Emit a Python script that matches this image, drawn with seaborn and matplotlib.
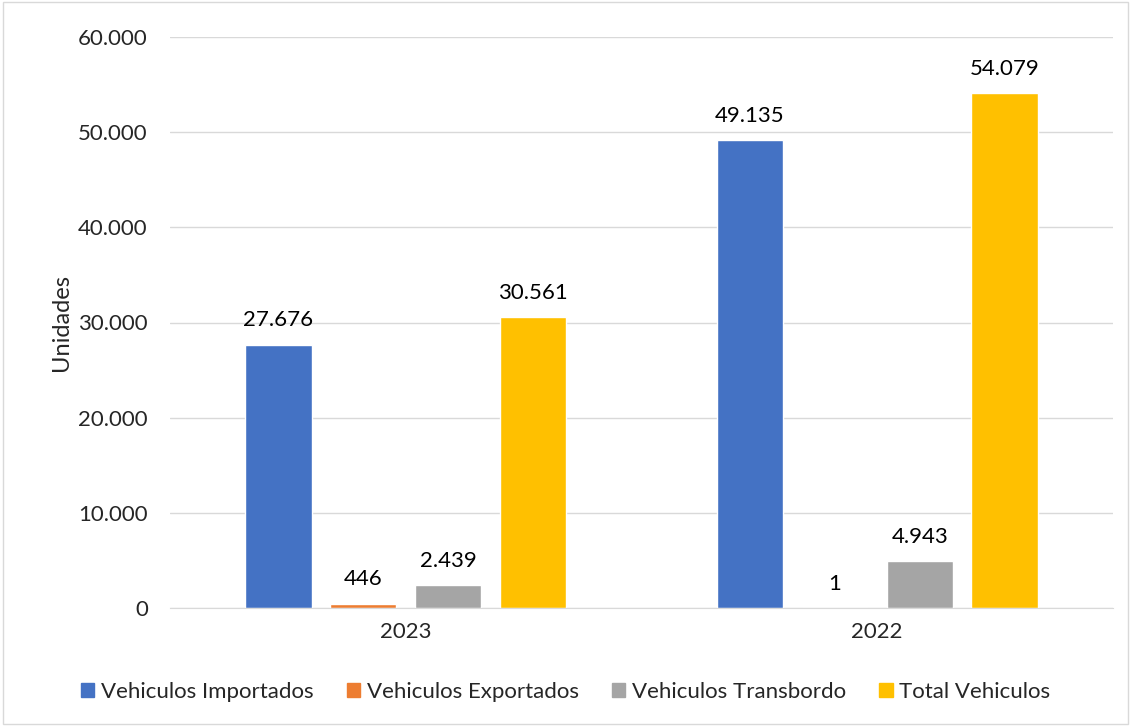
import numpy as np
import pandas as pd
import seaborn as sns
import matplotlib.pyplot as plt
from matplotlib.patches import Rectangle

# data
years = ["2023", "2022"]
series = ["Vehiculos Importados", "Vehiculos Exportados", "Vehiculos Transbordo", "Total Vehiculos"]
importados = [27676, 49135]
exportados = [446, 1]
transbordo = [2439, 4943]
total = [30561, 54079]
colors = ["#4472C4", "#ED7D31", "#A5A5A5", "#FFC000"]

rows = []
for i, y in enumerate(years):
    for s, vals in zip(series, [importados, exportados, transbordo, total]):
        rows.append({"year": y, "serie": s, "value": vals[i]})
df = pd.DataFrame(rows)

sns.set_style("white")
plt.rcParams['font.family'] = ['Lato', 'DejaVu Sans']

fig = plt.figure(figsize=(11.31, 7.26), dpi=100)
ax = fig.add_axes([170/1131, 1-608/726, (1113-170)/1131, (608-37)/726])

sns.barplot(data=df, x="year", y="value", hue="serie", palette=colors,
            order=years, hue_order=series, width=0.72, gap=0.22,
            ax=ax, legend=False, saturation=1)

def fmt(v):
    return f"{v:,.0f}".replace(",", ".")

for cont in ax.containers:
    for bar in cont:
        h = bar.get_height()
        ax.text(bar.get_x() + bar.get_width()/2, h + 1500, fmt(h),
                ha="center", va="bottom", fontsize=16, color="#000000")

ax.set_ylim(0, 60000)
ax.set_yticks(range(0, 60001, 10000))
ax.set_yticklabels([fmt(v) for v in range(0, 60001, 10000)], fontsize=16)
ax.tick_params(axis="x", labelsize=16, length=0, pad=10)
ax.tick_params(axis="y", length=0, pad=16)
ax.yaxis.grid(True, color="#D9D9D9", linewidth=1)
ax.set_axisbelow(True)
for sp in ["top", "right", "left"]:
    ax.spines[sp].set_visible(False)
ax.spines["bottom"].set_color("#D9D9D9")
ax.set_xlabel("")
ax.set_ylabel("Unidades", fontsize=17, labelpad=4)
ax.set_xlim(-0.5, 1.5)

handles = [Rectangle((0, 0), 1, 1, color=c) for c in colors]
fig.legend(handles, series, loc="center", bbox_to_anchor=(0.5, 1-692/726),
           ncol=4, frameon=False, fontsize=16, handlelength=0.6, handleheight=0.6,
           handletextpad=0.3, columnspacing=1.5)

fig.add_artist(Rectangle((0.003, 0.003), 0.994, 0.994, transform=fig.transFigure,
                         fill=False, edgecolor="#D9D9D9", linewidth=1))

fig.savefig("out.png", dpi=100)
